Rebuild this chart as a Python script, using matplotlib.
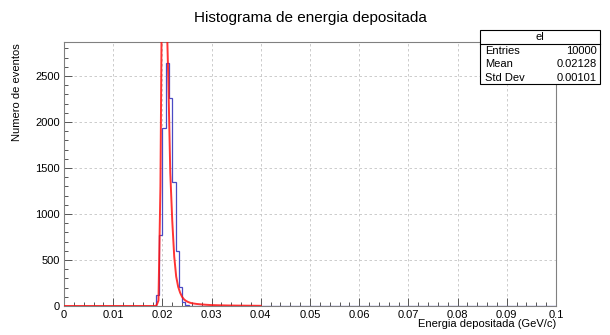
import numpy as np
import matplotlib
matplotlib.use('Agg')
import matplotlib.pyplot as plt
from matplotlib.patches import Rectangle
from matplotlib.lines import Line2D
from matplotlib.ticker import MultipleLocator

plt.rcParams['font.family'] = ['Liberation Sans', 'DejaVu Sans']

# histogram: 150 bins over [0, 0.1], only bins 28..36 are filled
n_bins = 150
x_range = (0.0, 0.1)
first_bin = 28
counts = [120, 777, 1937, 2645, 2261, 1349, 594, 211, 47, 15]

# fitted curve
fit_x = [0.0, 0.0184, 0.0188, 0.0192, 0.0196, 0.0200, 0.0204, 0.0208, 0.0212,
         0.0216, 0.0220, 0.0224, 0.0228, 0.0232, 0.0236, 0.0240, 0.0244,
         0.0248, 0.0252, 0.0256, 0.0260, 0.0270, 0.0280, 0.0290, 0.0300,
         0.0320, 0.0340, 0.0360, 0.0380, 0.0400]
fit_y = [0, 0, 5, 60, 1300, 4200, 4600, 3300, 2470,
         1450, 930, 540, 320, 210, 145, 100, 72,
         55, 44, 36, 30, 22, 17, 13, 10,
         7, 5, 4, 3, 2]

stats_name = 'el'
stats_rows = [('Entries', '10000'), ('Mean', '0.02128'), ('Std Dev', '0.00101')]

W, H = 610, 335
fig = plt.figure(figsize=(W / 100, H / 100), dpi=100)
ax = fig.add_axes([64 / W, 1 - 306 / H, (556 - 64) / W, (306 - 42) / H])

edges = np.linspace(x_range[0], x_range[1], n_bins + 1)
values = np.zeros(n_bins)
values[first_bin:first_bin + len(counts)] = counts
ax.stairs(values, edges, color='#4a4ac4', lw=0.9, zorder=3)
ax.plot(fit_x, fit_y, color='#ff1010', lw=1.4, alpha=0.85, zorder=4)

ax.set_xlim(0, 0.1)
ax.set_ylim(0, 2870)
ax.xaxis.set_major_locator(MultipleLocator(0.01))
ax.xaxis.set_minor_locator(MultipleLocator(0.002))
ax.yaxis.set_major_locator(MultipleLocator(500))
ax.yaxis.set_minor_locator(MultipleLocator(100))
ax.set_xticks([0.0, 0.01, 0.02, 0.03, 0.04, 0.05, 0.06, 0.07, 0.08, 0.09, 0.1])
ax.set_xticklabels(['0', '0.01', '0.02', '0.03', '0.04', '0.05', '0.06',
                    '0.07', '0.08', '0.09', '0.1'])
ax.tick_params(which='major', direction='in', length=6, width=0.7,
               color='#555555', labelsize=8, pad=3)
ax.tick_params(which='minor', direction='in', length=3, width=0.7,
               color='#555555')
for s in ax.spines.values():
    s.set_color('#808080')
    s.set_linewidth(0.8)
ax.grid(True, which='major', color='#c4c4c4', lw=0.6, ls=(0, (3, 3)))
ax.set_axisbelow(True)

fig.text(310 / W, 1 - 18 / H, 'Histograma de energia depositada',
         ha='center', va='center', fontsize=11)
fig.text(17 / W, 1 - 43 / H, 'Numero de eventos', rotation=90,
         ha='center', va='top', fontsize=8)
fig.text(556 / W, 1 - 324 / H, 'Energia depositada (GeV/c)',
         ha='right', va='center', fontsize=8)

# stats box
bx0, bx1, by0, by1 = 480, 600, 30, 83.5
fig.add_artist(Rectangle((bx0 / W, 1 - by1 / H), (bx1 - bx0) / W,
                         (by1 - by0) / H, transform=fig.transFigure,
                         facecolor='white', edgecolor='black', lw=0.8,
                         zorder=10))
fig.add_artist(Line2D([bx0 / W, bx1 / W], [1 - 44 / H, 1 - 44 / H],
                      transform=fig.transFigure, color='black', lw=0.8,
                      zorder=11))
fig.text((bx0 + bx1) / 2 / W, 1 - 37 / H, stats_name, ha='center',
         va='center', fontsize=8, zorder=12)
for i, (name, val) in enumerate(stats_rows):
    y = 1 - (51 + i * 13.3) / H
    fig.text(485 / W, y, name, ha='left', va='center', fontsize=8, zorder=12)
    fig.text(597 / W, y, val, ha='right', va='center', fontsize=8, zorder=12)

fig.savefig('out.png', dpi=100)
